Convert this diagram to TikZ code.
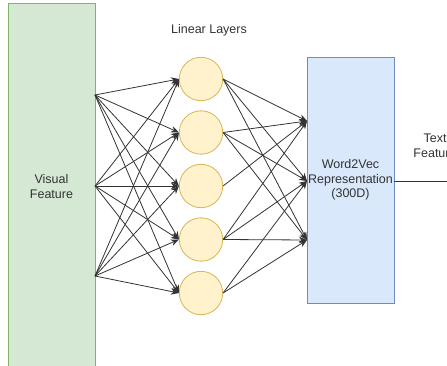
\documentclass[tikz,border=0pt]{standalone}
\usepackage{fontspec}
\setmainfont{Liberation Sans}
\usepackage{xcolor}
\usetikzlibrary{arrows.meta, positioning}

\definecolor{visfill}{HTML}{D5E8D4}
\definecolor{visline}{HTML}{82B366}
\definecolor{layerfill}{HTML}{FFF2CC}
\definecolor{layerline}{HTML}{D6B656}
\definecolor{wordfill}{HTML}{DAE8FC}
\definecolor{wordline}{HTML}{6C8EBF}

\tikzset{
  lbl/.style={font=\fontsize{12.5}{14.5}\selectfont, text=black!80, align=center},
  visbox/.style={lbl, draw=visline, fill=visfill, line width=0.8pt, minimum width=87pt, minimum height=366pt, inner sep=0pt},
  wordbox/.style={lbl, draw=wordline, fill=wordfill, line width=0.8pt, minimum width=87pt, minimum height=246pt, inner sep=0pt},
  layer/.style={circle, draw=layerline, fill=layerfill, line width=0.8pt, minimum size=43.4pt, inner sep=0pt},
  conn/.style={-{Stealth[length=8pt, width=6.5pt]}, black!80, line width=0.8pt},
}

\begin{document}
\begin{tikzpicture}[x=1pt, y=-1pt]
\useasboundingbox (0,0) rectangle (447,366);
\clip (0,0) rectangle (447,366);

\node[visbox] (vis) at (51.5,186.5) {Visual\\Feature};
\node[lbl] (title) at (209,30) {Linear Layers};
\foreach \i/\y in {1/79,2/132.5,3/186,4/239.5,5/293}
  \node[layer] (c\i) at (201,\y) {};
\node[wordbox] (w2v) at (350.5,180) {Word2Vec\\Representation\\(300D)};
\node[lbl] (txt) at (435,146) {Text\\Feature};

% ends on the boxes
\coordinate (s1) at (95,95);
\coordinate (s2) at (95,186);
\coordinate (s3) at (95,276);
\coordinate (t1) at (307,121);
\coordinate (t2) at (307,181);
\coordinate (t3) at (307,240);
\coordinate (out) at (452,181);

\foreach \s in {1,2,3}
  \foreach \c in {1,...,5}
    \draw[conn] (s\s) -- (c\c.west);
\foreach \c/\t in {1/1,1/2,1/3,2/1,2/2,2/3,3/1,4/1,4/2,4/3,5/2,5/3}
  \draw[conn] (c\c.east) -- (t\t);
\draw[black!80, line width=0.8pt] (t2 -| w2v.east) -- (out);
\end{tikzpicture}
\end{document}
